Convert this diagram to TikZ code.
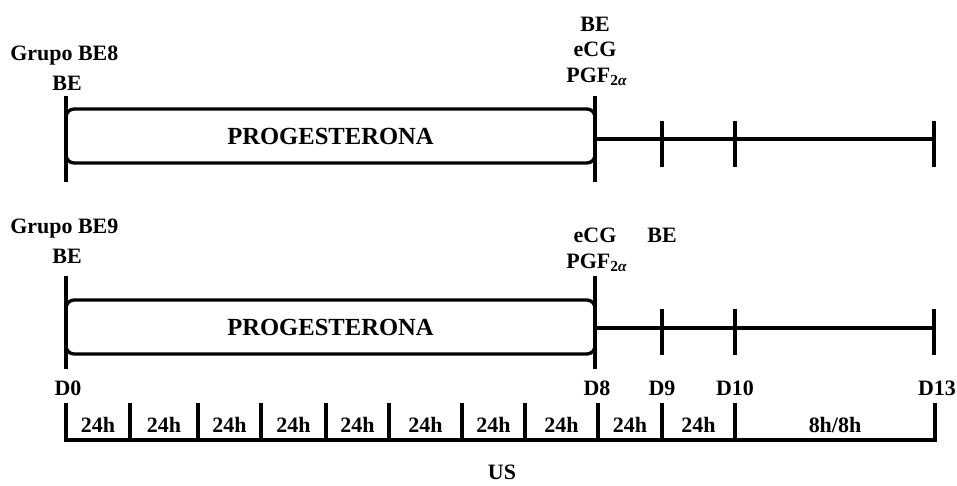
\documentclass[tikz,border=0pt]{standalone}
\usepackage{fontspec}
\setmainfont{Liberation Serif}
\usetikzlibrary{positioning}
\tikzset{
  lbl/.style={font=\bfseries\fontsize{12.5}{14}\selectfont, inner sep=0pt},
  tl/.style={line width=1.9pt, line cap=rect},
  progbox/.style={
    draw, rectangle, rounded corners=0.16cm, line width=1.9pt,
    minimum width=10.58cm, minimum height=1.08cm,
    font=\bfseries\fontsize{14}{16}\selectfont, align=center
  },
}
\begin{document}
\begin{tikzpicture}[x=0.02cm, y=-0.02cm]
  \useasboundingbox (0,0) rectangle (957,485);
  % Grupo BE8
  \node[lbl, anchor=base west] (g8) at (10,60) {Grupo BE8};
  \node[lbl, anchor=base] (be8i) at (67,90) {BE};
  \node[lbl, anchor=base] (be8f) at (595,31) {BE};
  \node[lbl, anchor=base] (ecg8) at (595,56) {eCG};
  \node[lbl, anchor=base] (pgf8) at (597,82) {PGF\textsubscript{2\textit{α}}};
  \node[progbox] (prog8) at (330.5,136) {PROGESTERONA};
  \coordinate (d0a8) at (66,98);
  \coordinate (d0b8) at (66,180);
  \coordinate (d8a8) at (595,98);
  \coordinate (d8b8) at (595,180);
  \coordinate (end8) at (934,139);
  \draw[tl] (d0a8) -- (d0b8);
  \draw[tl] (d8a8) -- (d8b8);
  \draw[tl] (d8a8 |- end8) -- (end8);
  \foreach \cx in {662, 735, 934}{
    \draw[tl] (\cx,123) -- (\cx,165);
  }
  % Grupo BE9
  \node[lbl, anchor=base west] (g9) at (10,233) {Grupo BE9};
  \node[lbl, anchor=base] (be9i) at (67,263) {BE};
  \node[lbl, anchor=base] (ecg9) at (595,242) {eCG};
  \node[lbl, anchor=base] (pgf9) at (597,268) {PGF\textsubscript{2\textit{α}}};
  \node[lbl, anchor=base] (be9f) at (662,242) {BE};
  \node[progbox] (prog9) at (330.5,327) {PROGESTERONA};
  \coordinate (d0a9) at (66,278);
  \coordinate (d0b9) at (66,367);
  \coordinate (d8a9) at (595,278);
  \coordinate (d8b9) at (595,367);
  \coordinate (end9) at (934,328);
  \draw[tl] (d0a9) -- (d0b9);
  \draw[tl] (d8a9) -- (d8b9);
  \draw[tl] (d8a9 |- end9) -- (end9);
  \foreach \cx in {662, 735, 934}{
    \draw[tl] (\cx,311) -- (\cx,353);
  }
  % dias
  \foreach \nm/\cx in {0/68, 8/597, 9/662, 10/735, 13/937}{
    \node[lbl, anchor=base] (dia\nm) at (\cx,395) {D\nm};
  }
  % escala de horas
  \coordinate (esc0) at (66,440);
  \coordinate (esc1) at (935,440);
  \draw[tl] (esc0) -- (esc1);
  \foreach \xa/\xb/\txt in
    {66/130/24h, 130/198/24h, 198/261/24h, 261/326/24h, 326/389/24h,
     389/462/24h, 462/525/24h, 525/598/24h, 598/662/24h, 662/735/24h,
     735/935/8h\slash 8h}{
    \draw[tl] (\xa,405) -- (\xa,440);
    \node[lbl, anchor=base] at ({(\xa+\xb)/2},432) {\txt};
  }
  \draw[tl] (935,405) -- (935,440);
  \node[lbl, anchor=base] (us) at (502,479) {US};
\end{tikzpicture}
\end{document}
